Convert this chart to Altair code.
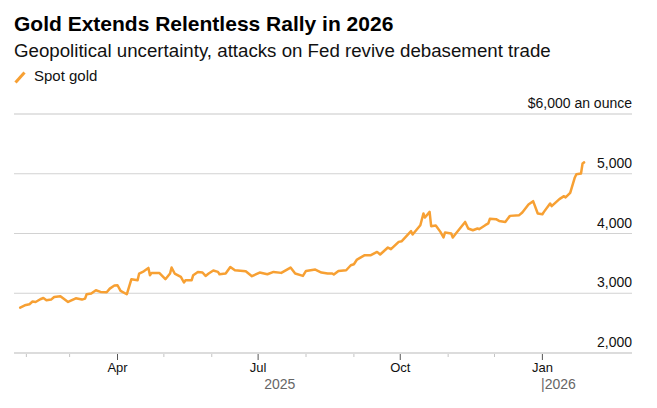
import altair as alt
import pandas as pd

# Spot gold, US$ per ounce
dates = [
    "2025-01-28", "2025-01-31", "2025-02-03", "2025-02-05", "2025-02-07", "2025-02-10",
    "2025-02-12", "2025-02-14", "2025-02-17", "2025-02-19", "2025-02-23", "2025-02-25",
    "2025-02-28", "2025-03-05", "2025-03-09", "2025-03-11", "2025-03-12", "2025-03-15",
    "2025-03-18", "2025-03-21", "2025-03-25", "2025-03-27", "2025-03-30", "2025-04-01",
    "2025-04-03", "2025-04-07", "2025-04-10", "2025-04-14", "2025-04-15", "2025-04-18",
    "2025-04-21", "2025-04-22", "2025-04-23", "2025-04-28", "2025-05-02", "2025-05-05",
    "2025-05-06", "2025-05-08", "2025-05-12", "2025-05-14", "2025-05-15", "2025-05-19",
    "2025-05-20", "2025-05-23", "2025-05-26", "2025-05-28", "2025-05-30", "2025-06-02",
    "2025-06-05", "2025-06-06", "2025-06-10", "2025-06-13", "2025-06-16", "2025-06-23",
    "2025-06-27", "2025-07-02", "2025-07-07", "2025-07-11", "2025-07-16", "2025-07-22",
    "2025-07-25", "2025-07-30", "2025-08-01", "2025-08-07", "2025-08-11", "2025-08-15",
    "2025-08-18", "2025-08-19", "2025-08-22", "2025-08-27", "2025-08-30", "2025-09-01",
    "2025-09-03", "2025-09-08", "2025-09-12", "2025-09-16", "2025-09-18", "2025-09-23",
    "2025-09-25", "2025-09-30", "2025-10-02", "2025-10-08", "2025-10-09", "2025-10-14",
    "2025-10-16", "2025-10-17", "2025-10-20", "2025-10-21", "2025-10-24", "2025-10-27",
    "2025-10-29", "2025-10-30", "2025-11-03", "2025-11-04", "2025-11-06", "2025-11-12",
    "2025-11-14", "2025-11-17", "2025-11-20", "2025-11-21", "2025-11-25", "2025-11-27",
    "2025-11-28", "2025-12-02", "2025-12-04", "2025-12-08", "2025-12-11", "2025-12-17",
    "2025-12-19", "2025-12-23", "2025-12-26", "2025-12-29", "2026-01-01", "2026-01-02",
    "2026-01-06", "2026-01-07", "2026-01-12", "2026-01-15", "2026-01-16", "2026-01-19",
    "2026-01-22", "2026-01-23", "2026-01-26", "2026-01-27", "2026-01-28",
]
prices = [
    2760, 2799, 2816, 2861, 2854, 2900,
    2921, 2883, 2894, 2938, 2950, 2911,
    2854, 2916, 2894, 2911, 2983, 2995,
    3050, 3022, 3017, 3078, 3129, 3134,
    3039, 2983, 3235, 3218, 3330, 3368,
    3424, 3302, 3341, 3341, 3235, 3330,
    3430, 3330, 3274, 3180, 3218, 3218,
    3302, 3357, 3347, 3290, 3330, 3380,
    3357, 3318, 3330, 3440, 3385, 3368,
    3285, 3347, 3318, 3357, 3341, 3430,
    3330, 3290, 3374, 3397, 3347, 3330,
    3330, 3313, 3374, 3385, 3469, 3486,
    3564, 3637, 3637, 3692, 3648, 3765,
    3737, 3860, 3871, 4039, 3983, 4139,
    4335, 4268, 4362, 4122, 4134, 4027,
    3933, 4017, 4000, 3933, 4000, 4194,
    4084, 4055, 4084, 4072, 4139, 4168,
    4245, 4240, 4211, 4194, 4295, 4307,
    4352, 4486, 4541, 4335, 4323, 4362,
    4503, 4457, 4575, 4625, 4603, 4680,
    4938, 4993, 5005, 5172, 5190,
]
series_name = "Spot gold"

y_ticks = [2000, 3000, 4000, 5000, 6000]
y_labels = ["2,000", "3,000", "4,000", "5,000", "$6,000 an ounce"]
month_starts = [
    "2025-02-01", "2025-03-01", "2025-04-01", "2025-05-01", "2025-06-01", "2025-07-01",
    "2025-08-01", "2025-09-01", "2025-10-01", "2025-11-01", "2025-12-01", "2026-01-01",
]
year_mid = [("2025-07-15", "2025")]
year_start = [("2026-01-01", "|2026")]

TITLE = "Gold Extends Relentless Rally in 2026"
SUBTITLE = "Geopolitical uncertainty, attacks on Fed revive debasement trade"

ORANGE = "#f7a033"
FONT = "Liberation Sans"
W, H = 618, 239

df = pd.DataFrame({"date": dates, "price": prices, "series": series_name})

x_scale = alt.Scale(domain=["2025-01-24", "2026-02-28"])
y_scale = alt.Scale(domain=[2000, 6000], nice=False, zero=False)
x_enc = alt.X("date:T", scale=x_scale, axis=None)

# horizontal value guides
grid_df = pd.DataFrame({"v": y_ticks, "label": y_labels})
grid_df["kind"] = ["base" if v == 2000 else "top" if v == 6000 else "mid" for v in y_ticks]

# month ticks along the bottom: long dark ticks + labels at quarter starts
ticks_df = pd.DataFrame({"date": month_starts})
ticks_df["quarter"] = [d[5:7] in ("01", "04", "07", "10") for d in month_starts]
ticks_df["label"] = [
    pd.Timestamp(d).strftime("%b") if q else "" for d, q in zip(month_starts, ticks_df["quarter"])
]

grid_mid = alt.Chart(grid_df).transform_filter("datum.kind == 'mid'").mark_rule(
    color="#d2d2d2", strokeWidth=1
).encode(y=alt.Y("v:Q", scale=y_scale, axis=None), x=alt.value(0), x2=alt.value(W))

grid_top = alt.Chart(grid_df).transform_filter("datum.kind == 'top'").mark_rule(
    color="#e3e3e3", strokeWidth=2
).encode(y=alt.Y("v:Q", scale=y_scale, axis=None), x=alt.value(0), x2=alt.value(W))

baseline = alt.Chart(grid_df).transform_filter("datum.kind == 'base'").mark_rule(
    color="#dcdcdc", strokeWidth=2
).encode(y=alt.Y("v:Q", scale=y_scale, axis=None), x=alt.value(0), x2=alt.value(W))

value_labels = alt.Chart(grid_df).mark_text(
    align="right", baseline="alphabetic", dy=-6, fontSize=14, font=FONT, color="#111111"
).encode(y=alt.Y("v:Q", scale=y_scale, axis=None), x=alt.value(W), text="label:N")

line = alt.Chart(df).mark_line(
    color=ORANGE, strokeWidth=2.5, strokeJoin="round", strokeCap="round"
).encode(x=x_enc, y=alt.Y("price:Q", scale=y_scale, axis=None))

# key: slanted orange stroke followed by the series name
key_df = pd.DataFrame({"series": [series_name]})
key_mark = alt.Chart(key_df).mark_rule(color=ORANGE, strokeWidth=3).encode(
    x=alt.value(1.5), x2=alt.value(10.5), y=alt.value(-31.5), y2=alt.value(-41.5)
)
key_text = alt.Chart(key_df).mark_text(
    align="left", baseline="alphabetic", fontSize=15, font=FONT, color="#111111"
).encode(x=alt.value(20), y=alt.value(-33), text="series:N")

minor_ticks = alt.Chart(ticks_df).transform_filter("!datum.quarter").mark_rule(
    color="#c4c4c4", strokeWidth=1
).encode(x=x_enc, y=alt.value(H + 1), y2=alt.value(H + 4))

major_ticks = alt.Chart(ticks_df).transform_filter("datum.quarter").mark_rule(
    color="#555555", strokeWidth=1
).encode(x=x_enc, y=alt.value(H + 1), y2=alt.value(H + 7))

month_labels = alt.Chart(ticks_df).transform_filter("datum.quarter").mark_text(
    align="center", baseline="middle", fontSize=13, font=FONT, color="#111111"
).encode(x=x_enc, y=alt.value(H + 15), text="label:N")

years_mid = alt.Chart(pd.DataFrame(year_mid, columns=["date", "label"])).mark_text(
    align="center", baseline="middle", fontSize=14, font=FONT, color="#666666"
).encode(x=x_enc, y=alt.value(H + 32), text="label:N")

years_start = alt.Chart(pd.DataFrame(year_start, columns=["date", "label"])).mark_text(
    align="left", baseline="middle", fontSize=14, font=FONT, color="#666666", dx=-1.3
).encode(x=x_enc, y=alt.value(H + 32), text="label:N")

title = alt.Chart(pd.DataFrame({"t": [TITLE]})).mark_text(
    align="left", baseline="alphabetic", fontSize=21, fontWeight="bold", font=FONT, color="#000000"
).encode(x=alt.value(0), y=alt.value(-83.3), text="t:N")

subtitle = alt.Chart(pd.DataFrame({"t": [SUBTITLE]})).mark_text(
    align="left", baseline="alphabetic", fontSize=18.7, font=FONT, color="#111111"
).encode(x=alt.value(0), y=alt.value(-56.7), text="t:N")

chart = (
    alt.layer(
        grid_mid, grid_top, baseline, value_labels, line, key_mark, key_text,
        minor_ticks, major_ticks, month_labels, years_mid, years_start, title, subtitle,
    )
    .properties(
        width=W,
        height=H,
        autosize="none",
        padding={"left": 14, "top": 114, "right": 25, "bottom": 55},
        background="white",
        view=alt.ViewBackground(stroke="transparent", strokeOpacity=0, strokeWidth=0),
    )
    .configure_view(stroke="transparent", strokeOpacity=0, strokeWidth=0)
    .configure(font=FONT)
)

chart.save("out.html", embed_options={"renderer": "svg", "actions": False})
